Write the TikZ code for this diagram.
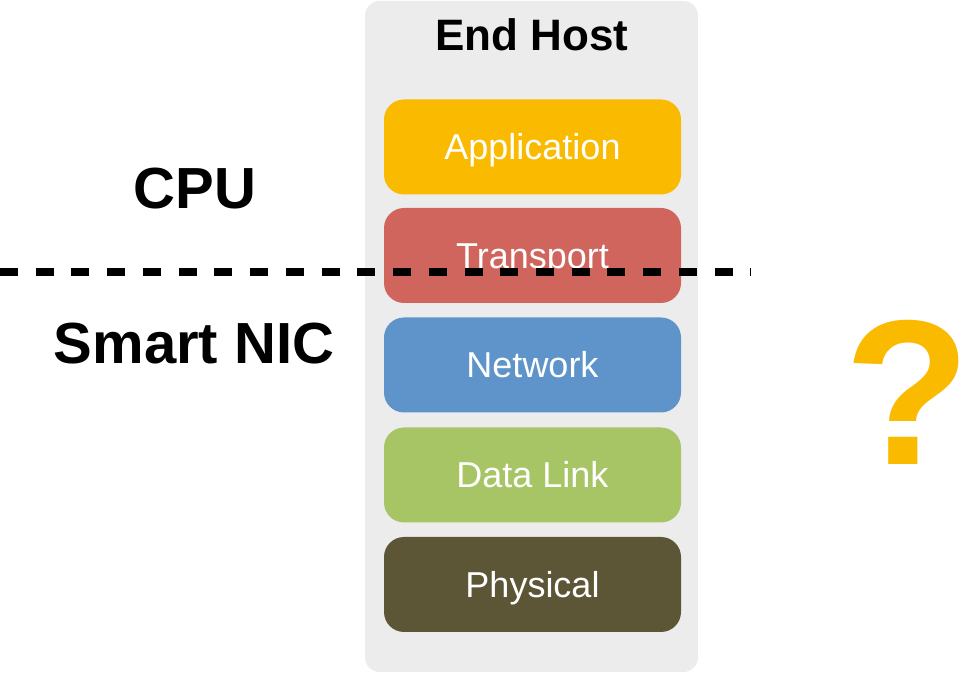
\documentclass[tikz,border=0pt]{standalone}
\usepackage{fontspec}
\setmainfont{Liberation Sans}
\definecolor{hostgray}{RGB}{236,236,236}
\definecolor{appcol}{RGB}{249,186,0}
\definecolor{transcol}{RGB}{208,101,94}
\definecolor{netcol}{RGB}{95,148,203}
\definecolor{linkcol}{RGB}{168,197,102}
\definecolor{physcol}{RGB}{92,86,55}
\definecolor{qcol}{RGB}{249,186,0}
\tikzset{
  hostbox/.style={fill=hostgray, draw=none, rounded corners=11pt,
    minimum width=249.75pt, minimum height=503.25pt, inner sep=0pt},
  layer/.style={fill=#1, draw=none, rounded corners=15pt,
    minimum width=222.75pt, minimum height=71.25pt, inner sep=0pt,
    text=white, font=\fontsize{27}{30}\selectfont,
    text height=19.3pt, text depth=0pt},
  biglabel/.style={font=\bfseries\fontsize{43.5}{48}\selectfont,
    text height=31.2pt, text depth=0pt, inner sep=0pt},
  title/.style={font=\bfseries\fontsize{33}{36}\selectfont,
    text height=23.6pt, text depth=0pt, inner sep=0pt},
  divider/.style={line width=6pt, dash pattern=on 13.5pt off 13.3pt}
}
\begin{document}
\begin{tikzpicture}[x=0.75pt, y=-0.75pt]
  \useasboundingbox (0,0) rectangle (965,673);
  % end host column
  \node[hostbox] (host) at (531.5,336.5) {};
  \node[title] (hosttitle) at (532,35) {End Host};
  % protocol stack
  \node[layer=appcol]   (app)   at (532.5,147)   {Application};
  \node[layer=transcol] (trans) at (532.5,255.5) {Transport};
  \node[layer=netcol]   (net)   at (532.5,365)   {Network};
  \node[layer=linkcol]  (link)  at (532.5,475)   {Data Link};
  \node[layer=physcol]  (phys)  at (532.5,584.5) {Physical};
  % side labels
  \node[biglabel] (cpu) at (195,188) {CPU};
  \node[biglabel] (nic) at (194,343) {Smart NIC};
  \node[font=\bfseries\fontsize{155}{160}\selectfont, text=qcol,
    text height=112.7pt, text depth=0pt, inner sep=0pt] (q) at (908,389)
    {\makebox[0pt]{?}};
  % CPU / NIC boundary
  \coordinate (dl) at (0,272);
  \coordinate (dr) at (751,272);
  \draw[divider] (dl) -- (dr);
\end{tikzpicture}
\end{document}
